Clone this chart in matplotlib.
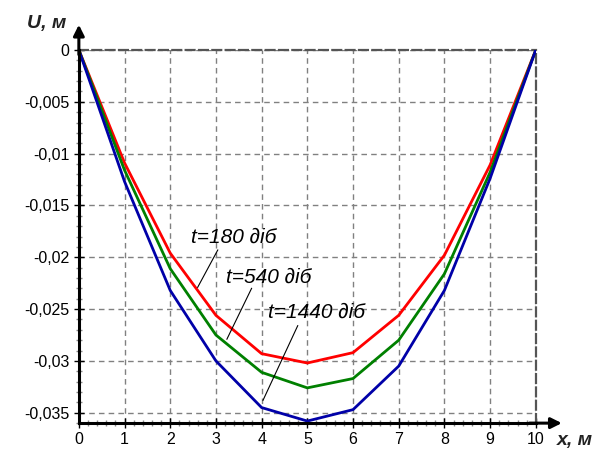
import numpy as np
import matplotlib.pyplot as plt
from matplotlib.ticker import MultipleLocator, FuncFormatter

plt.rcParams['font.family'] = ['Liberation Sans', 'DejaVu Sans']

# прогин U (м) у вузлах x (м) для трьох моментів часу
x = [0, 1, 2, 3, 4, 5, 6, 7, 8, 9, 10]
u_180 = [0, -0.0109, -0.0196, -0.0256, -0.0293, -0.0302, -0.0292, -0.0256, -0.0198, -0.0111, 0]
u_540 = [0, -0.0116, -0.0211, -0.0275, -0.0311, -0.0326, -0.0317, -0.0280, -0.0216, -0.0118, 0]
u_1440 = [0, -0.0127, -0.0232, -0.0300, -0.0345, -0.0358, -0.0347, -0.0305, -0.0232, -0.0124, 0]

labels = ['t=180 ∂iб', 't=540 ∂iб', 't=1440 ∂iб']
colors = ['#ff0000', '#008000', '#0000a8']
# підписи: положення тексту і кінець виносної лінії
text_xy = [(2.45, -0.0181), (3.22, -0.0219), (4.14, -0.0253)]
lead_from = [(3.04, -0.0193), (3.78, -0.0230), (4.79, -0.0266)]
lead_to = [(2.6, -0.0229), (3.24, -0.0279), (4.03, -0.0338)]

fig = plt.figure(figsize=(6.02, 4.54), dpi=100)
ax = fig.add_axes([0.131, 0.068, 0.759, 0.822])

for u, c in zip([u_180, u_540, u_1440], colors):
    ax.plot(x, u, color=c, lw=2, zorder=3)

ax.set_xlim(0, 10)
ax.set_ylim(-0.036, 0)
ax.xaxis.set_major_locator(MultipleLocator(1))
ax.xaxis.set_minor_locator(MultipleLocator(0.2))
ax.yaxis.set_major_locator(MultipleLocator(0.005))
ax.yaxis.set_minor_locator(MultipleLocator(0.001))
ax.yaxis.set_major_formatter(FuncFormatter(
    lambda v, p: '0' if abs(v) < 1e-9 else ('%g' % round(v, 4)).replace('.', ',')))

ax.grid(True, which='major', color='#808080', ls=(0, (4, 3)), lw=1)
ax.tick_params(which='major', direction='inout', length=7, width=1, labelsize=11.5,
               colors='black')
ax.tick_params(which='minor', direction='inout', length=4, width=1, color='#888888')
ax.tick_params(axis='x', pad=3)

for s in ['top', 'right']:
    ax.spines[s].set_linestyle((0, (4, 2)))
    ax.spines[s].set_color('#555555')
    ax.spines[s].set_linewidth(1.6)
for s in ['left', 'bottom']:
    ax.spines[s].set_linewidth(2.2)
    ax.spines[s].set_zorder(6)

# стрілки осей
ax.annotate('', xy=(0, 1.075), xytext=(0, 0.98), xycoords='axes fraction',
            arrowprops=dict(arrowstyle='-|>', lw=2.2, color='black',
                            mutation_scale=16), annotation_clip=False)
ax.annotate('', xy=(1.063, 0), xytext=(0.98, 0), xycoords='axes fraction',
            arrowprops=dict(arrowstyle='-|>', lw=2.2, color='black',
                            mutation_scale=16), annotation_clip=False)

fig.text(0.078, 0.948, 'U, м', fontsize=14, fontweight='bold', style='italic',
         ha='center', va='center', color='#222222')
fig.text(0.955, 0.03, 'x, м', fontsize=14, fontweight='bold', style='italic',
         ha='center', va='center', color='#222222')

for lab, txy, p0, p1 in zip(labels, text_xy, lead_from, lead_to):
    ax.text(txy[0], txy[1], lab, fontsize=15, style='italic', ha='left',
            va='center', zorder=5)
    ax.plot([p0[0], p1[0]], [p0[1], p1[1]], color='black', lw=0.8, zorder=4)

fig.savefig('out.png', dpi=100)
